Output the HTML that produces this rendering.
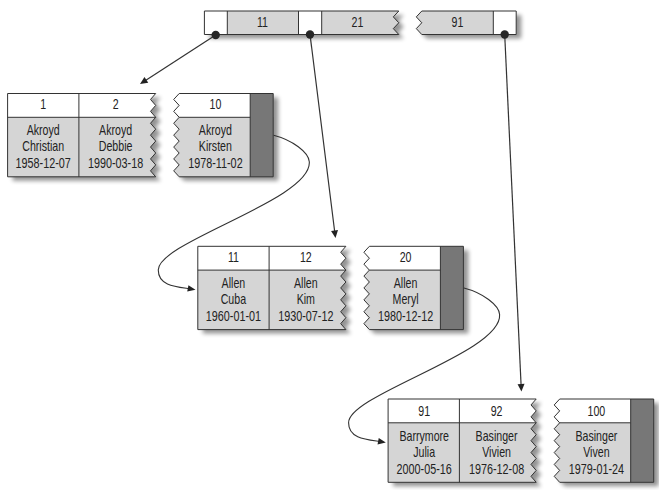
<!DOCTYPE html>
<html><head><meta charset="utf-8"><style>
html,body{margin:0;padding:0;background:#fff;width:659px;height:490px;overflow:hidden}
svg{display:block}
text{font-family:"Liberation Sans",sans-serif;font-size:14px;fill:#222}
</style></head><body>
<svg width="659" height="490" viewBox="0 0 659 490">
<defs><filter id="bl" x="-10%" y="-30%" width="120%" height="160%"><feGaussianBlur stdDeviation="2"/></filter></defs>
<g filter="url(#bl)" opacity="0.42" transform="translate(5.0,4.0)"><path d="M204.4,11.0 H398.8 L393.30,16.88 L398.80,22.75 L393.30,28.62 L398.80,34.50 H204.4 Z" fill="#000"/><path d="M421.8,11.0 H516.2 V34.5 H421.8 L416.30,28.62 L421.80,22.75 L416.30,16.88 L421.80,11.00 Z" fill="#000"/></g>
<path d="M204.4,11.0 H398.8 L393.30,16.88 L398.80,22.75 L393.30,28.62 L398.80,34.50 H204.4 Z" fill="#d5d5d5"/><path d="M421.8,11.0 H516.2 V34.5 H421.8 L416.30,28.62 L421.80,22.75 L416.30,16.88 L421.80,11.00 Z" fill="#d5d5d5"/>
<rect x="204.4" y="11.0" width="22.90" height="23.5" fill="#fff"/>
<rect x="298.5" y="11.0" width="23.20" height="23.5" fill="#fff"/>
<rect x="493.3" y="11.0" width="22.90" height="23.5" fill="#fff"/>
<path d="M204.4,11.0 H398.8 L393.30,16.88 L398.80,22.75 L393.30,28.62 L398.80,34.50 H204.4 Z" fill="none" stroke="#333" stroke-width="1.0"/>
<path d="M421.8,11.0 H516.2 V34.5 H421.8 L416.30,28.62 L421.80,22.75 L416.30,16.88 L421.80,11.00 Z" fill="none" stroke="#333" stroke-width="1.0"/>
<path d="M227.3,11.0 V34.5 M298.5,11.0 V34.5 M321.7,11.0 V34.5 M493.3,11.0 V34.5" stroke="#333" stroke-width="1.0"/>
<text transform="translate(262.50,26.60) scale(0.76,1)" text-anchor="middle">11</text>
<text transform="translate(357.50,26.60) scale(0.76,1)" text-anchor="middle">21</text>
<text transform="translate(457.50,26.60) scale(0.76,1)" text-anchor="middle">91</text>
<g filter="url(#bl)" opacity="0.42" transform="translate(5.0,4.0)"><path d="M7.6,93.5 H155.7 L150.50,99.45 L155.70,105.40 L150.50,111.35 L155.70,117.30 L150.50,123.25 L155.70,129.20 L150.50,135.15 L155.70,141.10 L150.50,147.05 L155.70,153.00 L150.50,158.95 L155.70,164.90 L150.50,170.85 L155.70,176.80 H7.6 Z" fill="#000"/><path d="M179.2,93.5 H273.20000000000005 V176.8 H179.2 L173.70,170.85 L179.20,164.90 L173.70,158.95 L179.20,153.00 L173.70,147.05 L179.20,141.10 L173.70,135.15 L179.20,129.20 L173.70,123.25 L179.20,117.30 L173.70,111.35 L179.20,105.40 L173.70,99.45 L179.20,93.50 Z" fill="#000"/></g>
<path d="M7.6,93.5 H155.7 L150.50,99.45 L155.70,105.40 L150.50,111.35 L155.70,117.30 L150.50,123.25 L155.70,129.20 L150.50,135.15 L155.70,141.10 L150.50,147.05 L155.70,153.00 L150.50,158.95 L155.70,164.90 L150.50,170.85 L155.70,176.80 H7.6 Z" fill="#d5d5d5"/><path d="M179.2,93.5 H273.20000000000005 V176.8 H179.2 L173.70,170.85 L179.20,164.90 L173.70,158.95 L179.20,153.00 L173.70,147.05 L179.20,141.10 L173.70,135.15 L179.20,129.20 L173.70,123.25 L179.20,117.30 L173.70,111.35 L179.20,105.40 L173.70,99.45 L179.20,93.50 Z" fill="#d5d5d5"/>
<clipPath id="c7"><rect x="-2.4000000000000004" y="88.5" width="300" height="28.8"/></clipPath>
<g clip-path="url(#c7)"><path d="M7.6,93.5 H155.7 L150.50,99.45 L155.70,105.40 L150.50,111.35 L155.70,117.30 L150.50,123.25 L155.70,129.20 L150.50,135.15 L155.70,141.10 L150.50,147.05 L155.70,153.00 L150.50,158.95 L155.70,164.90 L150.50,170.85 L155.70,176.80 H7.6 Z" fill="#fff"/><path d="M179.2,93.5 H273.20000000000005 V176.8 H179.2 L173.70,170.85 L179.20,164.90 L173.70,158.95 L179.20,153.00 L173.70,147.05 L179.20,141.10 L173.70,135.15 L179.20,129.20 L173.70,123.25 L179.20,117.30 L173.70,111.35 L179.20,105.40 L173.70,99.45 L179.20,93.50 Z" fill="#fff"/></g>
<rect x="250.2" y="93.5" width="23.00000000000003" height="83.3" fill="#777"/>
<path d="M7.6,93.5 H155.7 L150.50,99.45 L155.70,105.40 L150.50,111.35 L155.70,117.30 L150.50,123.25 L155.70,129.20 L150.50,135.15 L155.70,141.10 L150.50,147.05 L155.70,153.00 L150.50,158.95 L155.70,164.90 L150.50,170.85 L155.70,176.80 H7.6 Z" fill="none" stroke="#333" stroke-width="1.0" stroke-linejoin="miter"/>
<path d="M179.2,93.5 H273.20000000000005 V176.8 H179.2 L173.70,170.85 L179.20,164.90 L173.70,158.95 L179.20,153.00 L173.70,147.05 L179.20,141.10 L173.70,135.15 L179.20,129.20 L173.70,123.25 L179.20,117.30 L173.70,111.35 L179.20,105.40 L173.70,99.45 L179.20,93.50 Z" fill="none" stroke="#333" stroke-width="1.0"/>
<path d="M7.6,117.3 H155.7 M179.2,117.3 H250.2 M78.89999999999999,93.5 V176.8 M250.2,93.5 V176.8" stroke="#333" stroke-width="1.0" fill="none"/>
<text transform="translate(43.20,109.30) scale(0.76,1)" text-anchor="middle">1</text>
<text transform="translate(43.20,134.80) scale(0.76,1)" text-anchor="middle">Akroyd</text>
<text transform="translate(43.20,151.00) scale(0.76,1)" text-anchor="middle">Christian</text>
<text transform="translate(43.20,167.70) scale(0.772,1)" text-anchor="middle">1958-12-07</text>
<text transform="translate(115.60,109.30) scale(0.76,1)" text-anchor="middle">2</text>
<text transform="translate(115.60,134.80) scale(0.76,1)" text-anchor="middle">Akroyd</text>
<text transform="translate(115.60,151.00) scale(0.76,1)" text-anchor="middle">Debbie</text>
<text transform="translate(115.60,167.70) scale(0.772,1)" text-anchor="middle">1990-03-18</text>
<text transform="translate(215.40,109.30) scale(0.76,1)" text-anchor="middle">10</text>
<text transform="translate(215.40,134.80) scale(0.76,1)" text-anchor="middle">Akroyd</text>
<text transform="translate(215.40,151.00) scale(0.76,1)" text-anchor="middle">Kirsten</text>
<text transform="translate(215.40,167.70) scale(0.772,1)" text-anchor="middle">1978-11-02</text>
<g filter="url(#bl)" opacity="0.42" transform="translate(5.0,4.0)"><path d="M197.8,246.3 H345.9 L340.70,252.25 L345.90,258.20 L340.70,264.15 L345.90,270.10 L340.70,276.05 L345.90,282.00 L340.70,287.95 L345.90,293.90 L340.70,299.85 L345.90,305.80 L340.70,311.75 L345.90,317.70 L340.70,323.65 L345.90,329.60 H197.8 Z" fill="#000"/><path d="M369.4,246.3 H463.40000000000003 V329.6 H369.4 L363.90,323.65 L369.40,317.70 L363.90,311.75 L369.40,305.80 L363.90,299.85 L369.40,293.90 L363.90,287.95 L369.40,282.00 L363.90,276.05 L369.40,270.10 L363.90,264.15 L369.40,258.20 L363.90,252.25 L369.40,246.30 Z" fill="#000"/></g>
<path d="M197.8,246.3 H345.9 L340.70,252.25 L345.90,258.20 L340.70,264.15 L345.90,270.10 L340.70,276.05 L345.90,282.00 L340.70,287.95 L345.90,293.90 L340.70,299.85 L345.90,305.80 L340.70,311.75 L345.90,317.70 L340.70,323.65 L345.90,329.60 H197.8 Z" fill="#d5d5d5"/><path d="M369.4,246.3 H463.40000000000003 V329.6 H369.4 L363.90,323.65 L369.40,317.70 L363.90,311.75 L369.40,305.80 L363.90,299.85 L369.40,293.90 L363.90,287.95 L369.40,282.00 L363.90,276.05 L369.40,270.10 L363.90,264.15 L369.40,258.20 L363.90,252.25 L369.40,246.30 Z" fill="#d5d5d5"/>
<clipPath id="c197"><rect x="187.8" y="241.3" width="300" height="28.8"/></clipPath>
<g clip-path="url(#c197)"><path d="M197.8,246.3 H345.9 L340.70,252.25 L345.90,258.20 L340.70,264.15 L345.90,270.10 L340.70,276.05 L345.90,282.00 L340.70,287.95 L345.90,293.90 L340.70,299.85 L345.90,305.80 L340.70,311.75 L345.90,317.70 L340.70,323.65 L345.90,329.60 H197.8 Z" fill="#fff"/><path d="M369.4,246.3 H463.40000000000003 V329.6 H369.4 L363.90,323.65 L369.40,317.70 L363.90,311.75 L369.40,305.80 L363.90,299.85 L369.40,293.90 L363.90,287.95 L369.40,282.00 L363.90,276.05 L369.40,270.10 L363.90,264.15 L369.40,258.20 L363.90,252.25 L369.40,246.30 Z" fill="#fff"/></g>
<rect x="440.4" y="246.3" width="23.00000000000003" height="83.3" fill="#777"/>
<path d="M197.8,246.3 H345.9 L340.70,252.25 L345.90,258.20 L340.70,264.15 L345.90,270.10 L340.70,276.05 L345.90,282.00 L340.70,287.95 L345.90,293.90 L340.70,299.85 L345.90,305.80 L340.70,311.75 L345.90,317.70 L340.70,323.65 L345.90,329.60 H197.8 Z" fill="none" stroke="#333" stroke-width="1.0" stroke-linejoin="miter"/>
<path d="M369.4,246.3 H463.40000000000003 V329.6 H369.4 L363.90,323.65 L369.40,317.70 L363.90,311.75 L369.40,305.80 L363.90,299.85 L369.40,293.90 L363.90,287.95 L369.40,282.00 L363.90,276.05 L369.40,270.10 L363.90,264.15 L369.40,258.20 L363.90,252.25 L369.40,246.30 Z" fill="none" stroke="#333" stroke-width="1.0"/>
<path d="M197.8,270.1 H345.9 M369.4,270.1 H440.4 M269.1,246.3 V329.6 M440.4,246.3 V329.6" stroke="#333" stroke-width="1.0" fill="none"/>
<text transform="translate(233.40,262.10) scale(0.76,1)" text-anchor="middle">11</text>
<text transform="translate(233.40,287.60) scale(0.76,1)" text-anchor="middle">Allen</text>
<text transform="translate(233.40,303.80) scale(0.76,1)" text-anchor="middle">Cuba</text>
<text transform="translate(233.40,320.50) scale(0.772,1)" text-anchor="middle">1960-01-01</text>
<text transform="translate(305.80,262.10) scale(0.76,1)" text-anchor="middle">12</text>
<text transform="translate(305.80,287.60) scale(0.76,1)" text-anchor="middle">Allen</text>
<text transform="translate(305.80,303.80) scale(0.76,1)" text-anchor="middle">Kim</text>
<text transform="translate(305.80,320.50) scale(0.772,1)" text-anchor="middle">1930-07-12</text>
<text transform="translate(405.60,262.10) scale(0.76,1)" text-anchor="middle">20</text>
<text transform="translate(405.60,287.60) scale(0.76,1)" text-anchor="middle">Allen</text>
<text transform="translate(405.60,303.80) scale(0.76,1)" text-anchor="middle">Meryl</text>
<text transform="translate(405.60,320.50) scale(0.772,1)" text-anchor="middle">1980-12-12</text>
<g filter="url(#bl)" opacity="0.42" transform="translate(5.0,4.0)"><path d="M388.1,399.0 H536.2 L531.00,404.95 L536.20,410.90 L531.00,416.85 L536.20,422.80 L531.00,428.75 L536.20,434.70 L531.00,440.65 L536.20,446.60 L531.00,452.55 L536.20,458.50 L531.00,464.45 L536.20,470.40 L531.00,476.35 L536.20,482.30 H388.1 Z" fill="#000"/><path d="M559.7,399.0 H653.7 V482.3 H559.7 L554.20,476.35 L559.70,470.40 L554.20,464.45 L559.70,458.50 L554.20,452.55 L559.70,446.60 L554.20,440.65 L559.70,434.70 L554.20,428.75 L559.70,422.80 L554.20,416.85 L559.70,410.90 L554.20,404.95 L559.70,399.00 Z" fill="#000"/></g>
<path d="M388.1,399.0 H536.2 L531.00,404.95 L536.20,410.90 L531.00,416.85 L536.20,422.80 L531.00,428.75 L536.20,434.70 L531.00,440.65 L536.20,446.60 L531.00,452.55 L536.20,458.50 L531.00,464.45 L536.20,470.40 L531.00,476.35 L536.20,482.30 H388.1 Z" fill="#d5d5d5"/><path d="M559.7,399.0 H653.7 V482.3 H559.7 L554.20,476.35 L559.70,470.40 L554.20,464.45 L559.70,458.50 L554.20,452.55 L559.70,446.60 L554.20,440.65 L559.70,434.70 L554.20,428.75 L559.70,422.80 L554.20,416.85 L559.70,410.90 L554.20,404.95 L559.70,399.00 Z" fill="#d5d5d5"/>
<clipPath id="c388"><rect x="378.1" y="394.0" width="300" height="28.8"/></clipPath>
<g clip-path="url(#c388)"><path d="M388.1,399.0 H536.2 L531.00,404.95 L536.20,410.90 L531.00,416.85 L536.20,422.80 L531.00,428.75 L536.20,434.70 L531.00,440.65 L536.20,446.60 L531.00,452.55 L536.20,458.50 L531.00,464.45 L536.20,470.40 L531.00,476.35 L536.20,482.30 H388.1 Z" fill="#fff"/><path d="M559.7,399.0 H653.7 V482.3 H559.7 L554.20,476.35 L559.70,470.40 L554.20,464.45 L559.70,458.50 L554.20,452.55 L559.70,446.60 L554.20,440.65 L559.70,434.70 L554.20,428.75 L559.70,422.80 L554.20,416.85 L559.70,410.90 L554.20,404.95 L559.70,399.00 Z" fill="#fff"/></g>
<rect x="630.7" y="399.0" width="23.00000000000003" height="83.3" fill="#777"/>
<path d="M388.1,399.0 H536.2 L531.00,404.95 L536.20,410.90 L531.00,416.85 L536.20,422.80 L531.00,428.75 L536.20,434.70 L531.00,440.65 L536.20,446.60 L531.00,452.55 L536.20,458.50 L531.00,464.45 L536.20,470.40 L531.00,476.35 L536.20,482.30 H388.1 Z" fill="none" stroke="#333" stroke-width="1.0" stroke-linejoin="miter"/>
<path d="M559.7,399.0 H653.7 V482.3 H559.7 L554.20,476.35 L559.70,470.40 L554.20,464.45 L559.70,458.50 L554.20,452.55 L559.70,446.60 L554.20,440.65 L559.70,434.70 L554.20,428.75 L559.70,422.80 L554.20,416.85 L559.70,410.90 L554.20,404.95 L559.70,399.00 Z" fill="none" stroke="#333" stroke-width="1.0"/>
<path d="M388.1,422.8 H536.2 M559.7,422.8 H630.7 M459.40000000000003,399.0 V482.3 M630.7,399.0 V482.3" stroke="#333" stroke-width="1.0" fill="none"/>
<text transform="translate(424.20,415.60) scale(0.76,1)" text-anchor="middle">91</text>
<text transform="translate(424.20,441.10) scale(0.76,1)" text-anchor="middle">Barrymore</text>
<text transform="translate(424.20,457.30) scale(0.76,1)" text-anchor="middle">Julia</text>
<text transform="translate(424.20,474.00) scale(0.772,1)" text-anchor="middle">2000-05-16</text>
<text transform="translate(496.60,415.60) scale(0.76,1)" text-anchor="middle">92</text>
<text transform="translate(496.60,441.10) scale(0.76,1)" text-anchor="middle">Basinger</text>
<text transform="translate(496.60,457.30) scale(0.76,1)" text-anchor="middle">Vivien</text>
<text transform="translate(496.60,474.00) scale(0.772,1)" text-anchor="middle">1976-12-08</text>
<text transform="translate(596.40,415.60) scale(0.76,1)" text-anchor="middle">100</text>
<text transform="translate(596.40,441.10) scale(0.76,1)" text-anchor="middle">Basinger</text>
<text transform="translate(596.40,457.30) scale(0.76,1)" text-anchor="middle">Viven</text>
<text transform="translate(596.40,474.00) scale(0.772,1)" text-anchor="middle">1979-01-24</text>
<path d="M215.7,35 L145.88,80.20" stroke="#333" stroke-width="1.2"/>
<path d="M140.00,84.00 L144.48,76.93 L148.28,82.81 Z" fill="#222"/>
<circle cx="215.7" cy="35" r="4.2" fill="#262626"/>
<path d="M310,34.5 L334.63,231.05" stroke="#333" stroke-width="1.2"/>
<path d="M335.50,238.00 L331.08,230.89 L338.03,230.02 Z" fill="#222"/>
<circle cx="310" cy="34.5" r="4.2" fill="#262626"/>
<path d="M504.7,34.5 L521.07,384.61" stroke="#333" stroke-width="1.2"/>
<path d="M521.40,391.60 L517.55,384.17 L524.54,383.84 Z" fill="#222"/>
<circle cx="504.7" cy="34.5" r="4.2" fill="#262626"/>
<path d="M273.60,135.20 C292.40,140.00 308.70,152.20 309.30,161.70 C312.30,199.50 157.60,241.80 158.30,270.00 C158.10,285.60 176.00,286.80 189.00,288.60" fill="none" stroke="#333" stroke-width="1.1"/><path d="M195.50,289.80 L187.23,291.62 L188.44,285.13 Z" fill="#222"/>
<path d="M463.90,288.00 C482.70,292.80 499.00,305.00 499.60,314.50 C502.60,352.30 347.90,394.60 348.60,422.80 C348.40,438.40 366.30,439.60 379.30,441.40" fill="none" stroke="#333" stroke-width="1.1"/><path d="M385.80,442.60 L377.53,444.42 L378.74,437.93 Z" fill="#222"/>
</svg>
</body></html>
